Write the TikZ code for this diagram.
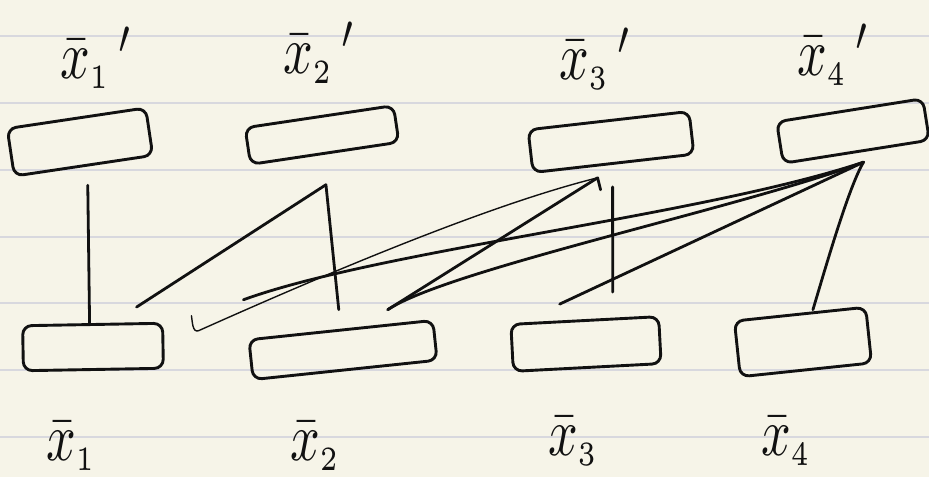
\documentclass[tikz,border=0pt]{standalone}
\usetikzlibrary{calc}
\definecolor{paper}{HTML}{F6F4E8}
\definecolor{rulecol}{HTML}{D8D8DE}
\definecolor{ink}{HTML}{111111}
\newcommand{\hxlab}[2]{\scalebox{5.2}[6.8]{$\bar{x}_{\scriptscriptstyle #1}#2$}}
\begin{document}
\begin{tikzpicture}[x=1pt,y=-1pt,
  pen/.style={draw=ink, line width=2.8pt, line cap=round, line join=round},
  thinpen/.style={draw=ink, line width=1.4pt, line cap=round, line join=round},
  boxnode/.style={draw=ink, line width=2.9pt, rectangle, rounded corners=9pt, inner sep=0pt},
  lbl/.style={text=ink, inner sep=0pt, anchor=base west, font=\normalsize}
]
\fill[paper] (0,0) rectangle (929,477);
\useasboundingbox (0,0) rectangle (929,477);
\foreach \yy in {36,103,170,237,303,370,437}
  \draw[rulecol, line width=1.4pt] (0,\yy) -- (929,\yy);

% top boxes
\node[boxnode, minimum width=140pt, minimum height=48pt, rotate=8.5] (T1) at (80,142) {};
\node[boxnode, minimum width=150pt, minimum height=37pt, rotate=8.5] (T2) at (322,135) {};
\node[boxnode, minimum width=162pt, minimum height=43pt, rotate=6.5] (T3) at (611,142) {};
\node[boxnode, minimum width=148pt, minimum height=42pt, rotate=9] (T4) at (853,131) {};
% bottom boxes
\node[boxnode, minimum width=140pt, minimum height=45pt, rotate=1] (B1) at (93,347) {};
\node[boxnode, minimum width=185pt, minimum height=40pt, rotate=6] (B2) at (343,350) {};
\node[boxnode, minimum width=148pt, minimum height=47pt, rotate=3] (B3) at (586,344) {};
\node[boxnode, minimum width=132pt, minimum height=56pt, rotate=6] (B4) at (803,342) {};

% labels
\node[lbl] (LT1) at (60,78) {\hxlab{1}{\,{}'}};
\node[lbl] (LT2) at (283,73) {\hxlab{2}{\,{}'}};
\node[lbl] (LT3) at (559,79) {\hxlab{3}{\,{}'}};
\node[lbl] (LT4) at (797,75) {\hxlab{4}{\,{}'}};
\node[lbl] (LB1) at (46,460) {\hxlab{1}{}};
\node[lbl] (LB2) at (290,460) {\hxlab{2}{}};
\node[lbl] (LB3) at (548,455) {\hxlab{3}{}};
\node[lbl] (LB4) at (761,455) {\hxlab{4}{}};

% connector ports
\coordinate (T1p) at ([shift={(4,18)}]T1.south);
\coordinate (T2p) at ([shift={(1,30)}]T2.south);
\coordinate (T3p) at ([shift={(-16,13)}]T3.south);
\coordinate (T3q) at ([shift={(-1,22)}]T3.south);
\coordinate (T4p) at ([shift={(7,9)}]T4.south);
\coordinate (B1t) at ([shift={(-3,0)}]B1.north);
\coordinate (B1a) at ([shift={(44,-16)}]B1.north);
\coordinate (B1b) at ([shift={(34,-15)}]B1.east);
\coordinate (B1c) at ([shift={(79,-46)}]B1.east);
\coordinate (B2a) at ([shift={(-2,-19)}]B2.north);
\coordinate (B2b) at ([shift={(47,-19)}]B2.north);
\coordinate (B3a) at ([shift={(-25,-15)}]B3.north);
\coordinate (B3b) at ([shift={(28,-27)}]B3.north);
\coordinate (B4a) at ([shift={(13,-3)}]B4.north);

% connectors
\draw[pen] (T1p) -- (B1t);
\draw[pen] (T2p) -- (B1a);
\draw[pen] (T2p) -- (B2a);
\draw[thinpen] (T3p) .. controls +(-117,29) and +(103,-46) .. (B1b)
   .. controls +(-6,2) and +(1,6) .. ++(-7,-15);
\draw[pen] (B1c) .. controls +(138,-50) and +(-163,54) .. (T4p);
\draw[pen] (B2b) -- (T3p) -- ++(3,12);
\draw[pen] (B2b) .. controls +(60,-40) and +(-120,45) .. (T4p);
\draw[pen] (B3a) -- (T4p);
\draw[pen] (T3q) -- (B3b);
\draw[pen] (T4p) .. controls +(-15,25) and +(12,-40) .. (B4a);
\end{tikzpicture}
\end{document}
